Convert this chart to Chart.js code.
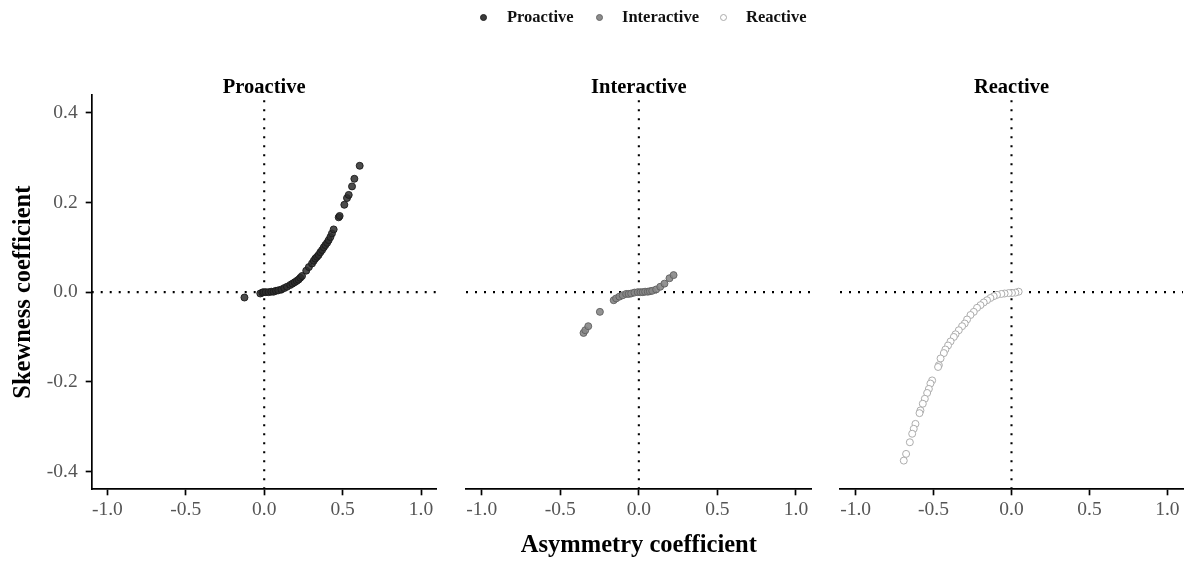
<!DOCTYPE html>
<html>
<head>
<meta charset="utf-8">
<script src="https://cdn.jsdelivr.net/npm/chart.js@4.4.1/dist/chart.umd.min.js"></script>
<style>
  html, body { margin:0; padding:0; background:#fff; overflow:hidden; }
  #wrap { position:relative; width:1188px; height:561px; overflow:hidden; font-family:"Liberation Serif","Times New Roman",serif; }
  canvas { position:absolute; top:0; }
  .lg { position:absolute; top:6px; font-weight:bold; font-size:16.5px; color:#111; line-height:22px; white-space:nowrap; }
  .dot { position:absolute; width:7px; height:7px; border-radius:50%; top:14px; box-sizing:border-box; }
</style>
</head>
<body>
<div id="wrap">
  <canvas id="c1" width="450" height="561" style="left:0px"></canvas>
  <canvas id="c2" width="375" height="561" style="left:450px"></canvas>
  <canvas id="c3" width="363" height="561" style="left:825px"></canvas>
  <span class="dot" style="left:480px;background:#3a3a3a;border:1px solid #222"></span>
  <span class="lg" style="left:507px">Proactive</span>
  <span class="dot" style="left:596px;background:#8c8c8c;border:1px solid #666"></span>
  <span class="lg" style="left:622px">Interactive</span>
  <span class="dot" style="left:720px;background:#fff;border:1px solid #aaa"></span>
  <span class="lg" style="left:746px">Reactive</span>
</div>
<script>
const panelNames = ["Proactive", "Interactive", "Reactive"];
const xTicks = [-1.0, -0.5, 0.0, 0.5, 1.0];
const yTicks = [-0.4, -0.2, 0.0, 0.2, 0.4];
const xLimits = [-1.1, 1.1];
const yLimits = [-0.44, 0.44];

const proactiveX = [-0.126, -0.025, -0.012, -0.004, 0.010, 0.028, 0.045, 0.060, 0.075, 0.090, 0.110, 0.128, 0.145, 0.166, 0.180, 0.194, 0.207, 0.219, 0.230, 0.241, 0.268, 0.285, 0.305, 0.316, 0.326, 0.337, 0.347, 0.358, 0.369, 0.380, 0.390, 0.401, 0.411, 0.422, 0.432, 0.443, 0.475, 0.481, 0.511, 0.528, 0.539, 0.560, 0.575, 0.609];
const proactiveY = [-0.012, -0.003, -0.001, 0.000, 0.000, 0.000, 0.001, 0.001, 0.003, 0.004, 0.006, 0.009, 0.012, 0.016, 0.019, 0.022, 0.025, 0.028, 0.032, 0.036, 0.048, 0.056, 0.064, 0.070, 0.075, 0.079, 0.083, 0.089, 0.094, 0.100, 0.105, 0.110, 0.116, 0.123, 0.131, 0.140, 0.167, 0.170, 0.195, 0.210, 0.217, 0.236, 0.253, 0.282];

const interactiveX = [-0.352, -0.341, -0.322, -0.248, -0.160, -0.145, -0.124, -0.103, -0.081, -0.065, -0.049, -0.028, -0.007, 0.010, 0.025, 0.040, 0.057, 0.070, 0.085, 0.110, 0.136, 0.163, 0.195, 0.221];
const interactiveY = [-0.091, -0.085, -0.076, -0.044, -0.018, -0.014, -0.010, -0.007, -0.004, -0.004, -0.003, -0.001, 0.000, 0.000, 0.000, 0.001, 0.001, 0.002, 0.003, 0.006, 0.012, 0.019, 0.031, 0.038];

const reactiveX = [0.046, 0.025, 0.003, -0.018, -0.044, -0.065, -0.093, -0.114, -0.135, -0.157, -0.178, -0.199, -0.221, -0.242, -0.263, -0.285, -0.300, -0.317, -0.338, -0.359, -0.370, -0.391, -0.407, -0.424, -0.434, -0.455, -0.466, -0.471, -0.509, -0.520, -0.530, -0.541, -0.556, -0.569, -0.584, -0.590, -0.616, -0.627, -0.637, -0.652, -0.676, -0.691];
const reactiveY = [0.001, -0.001, -0.002, -0.002, -0.003, -0.004, -0.006, -0.009, -0.013, -0.018, -0.023, -0.029, -0.035, -0.044, -0.051, -0.061, -0.070, -0.076, -0.085, -0.094, -0.100, -0.110, -0.119, -0.128, -0.136, -0.148, -0.163, -0.167, -0.197, -0.204, -0.216, -0.225, -0.238, -0.249, -0.264, -0.270, -0.294, -0.305, -0.316, -0.335, -0.361, -0.376];

const FONT = '"Liberation Serif", "Times New Roman", serif';

const facetTitle = {
  id: 'facetTitle',
  afterDraw(chart, args, opts) {
    const { ctx, chartArea } = chart;
    ctx.save();
    ctx.font = 'bold 20.5px ' + FONT;
    ctx.fillStyle = '#000';
    ctx.textAlign = 'center';
    ctx.textBaseline = 'alphabetic';
    ctx.fillText(opts.text, (chartArea.left + chartArea.right) / 2, chartArea.top - 2);
    ctx.restore();
  }
};

function pts(xs, ys) { return xs.map((x, i) => ({ x: x, y: ys[i] })); }

function makeChart(id, name, xs, ys, style, cfg) {
  const datasets = [
    { type: 'line', data: [{ x: xLimits[0], y: 0 }, { x: xLimits[1], y: 0 }], borderColor: '#000', borderWidth: 2.1, borderDash: [2, 7], pointRadius: 0, order: 3, fill: false },
    { type: 'line', data: [{ x: 0, y: yLimits[0] }, { x: 0, y: yLimits[1] }], borderColor: '#000', borderWidth: 2.1, borderDash: [2, 7], pointRadius: 0, order: 3, fill: false },
    { type: 'scatter', label: name, data: pts(xs, ys), pointRadius: 3.5, pointBorderWidth: 1,
      pointBackgroundColor: style.fill, pointBorderColor: style.border, order: 1 }
  ];
  return new Chart(document.getElementById(id), {
    type: 'scatter',
    data: { datasets },
    plugins: [facetTitle],
    options: {
      responsive: false, animation: false, devicePixelRatio: 1,
      layout: { padding: cfg.padding },
      plugins: { legend: { display: false }, tooltip: { enabled: false }, facetTitle: { text: name } },
      scales: {
        x: {
          type: 'linear', min: xLimits[0], max: xLimits[1],
          afterBuildTicks: s => { s.ticks = xTicks.map(v => ({ value: v })); },
          afterFit: s => { s.height = 71.7; },
          grid: { display: true, drawOnChartArea: false, drawTicks: true, tickLength: 6, tickColor: '#000', tickWidth: 1.7 },
          border: { display: true, color: '#000', width: 1.7 },
          ticks: { padding: 3, color: '#555', font: { family: FONT, size: 19.5 }, callback: v => Number(v).toFixed(1), maxRotation: 0, autoSkip: false },
          title: cfg.xTitle ? { display: true, text: 'Asymmetry coefficient', color: '#000', font: { family: FONT, size: 24.5, weight: 'bold' }, padding: { top: 0, bottom: 1 } } : { display: false }
        },
        y: {
          type: 'linear', min: yLimits[0], max: yLimits[1], display: cfg.showY,
          afterBuildTicks: s => { s.ticks = yTicks.map(v => ({ value: v })); },
          afterFit: s => { s.width = cfg.showY ? 91.7 : 0; },
          grid: { display: true, drawOnChartArea: false, drawTicks: true, tickLength: 6, tickColor: '#000', tickWidth: 1.7 },
          border: { display: true, color: '#000', width: 1.7 },
          ticks: { padding: 8, color: '#555', font: { family: FONT, size: 19.5 }, callback: v => Number(v).toFixed(1), autoSkip: false },
          title: cfg.showY ? { display: true, text: 'Skewness coefficient', color: '#000', font: { family: FONT, size: 24.5, weight: 'bold' }, padding: { top: 9, bottom: 0 } } : { display: false }
        }
      }
    }
  });
}

makeChart('c1', panelNames[0], proactiveX, proactiveY, { fill: 'rgba(45,45,45,0.85)', border: 'rgba(25,25,25,0.9)' },
  { padding: { top: 95, right: 13.3, left: 0, bottom: 0 }, showY: true, xTitle: false });
makeChart('c2', panelNames[1], interactiveX, interactiveY, { fill: 'rgba(135,135,135,0.9)', border: 'rgba(95,95,95,0.9)' },
  { padding: { top: 95, right: 13.3, left: 16, bottom: 0 }, showY: false, xTitle: true });
makeChart('c3', panelNames[2], reactiveX, reactiveY, { fill: '#ffffff', border: '#acacac' },
  { padding: { top: 95, right: 2, left: 15, bottom: 0 }, showY: false, xTitle: false });
</script>
</body>
</html>
